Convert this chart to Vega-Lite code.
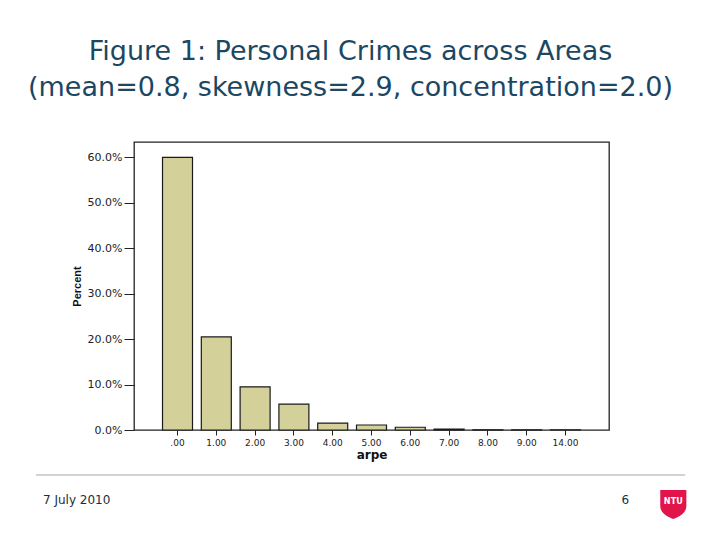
{
  "$schema": "https://vega.github.io/schema/vega-lite/v6.json",
  "background": "white",
  "autosize": {"type": "pad"},
  "padding": {"left": 23, "top": 38, "right": 0, "bottom": 0},
  "title": {
    "text": ["Figure 1: Personal Crimes across Areas", "(mean=0.8, skewness=2.9, concentration=2.0)"],
    "font": "DejaVu Sans",
    "fontSize": 27,
    "fontWeight": "normal",
    "color": "#1b4763",
    "lineHeight": 36,
    "anchor": "middle",
    "dx": -21,
    "offset": 39
  },
  "bounds": "flush",
  "center": true,
  "spacing": 45,
  "vconcat": [
    {
      "width": 475,
      "height": 288,
      "view": {"stroke": "#222222", "strokeWidth": 1.3},
      "data": {
        "values": [
          {"arpe": ".00", "percent": 0.600},
          {"arpe": "1.00", "percent": 0.205},
          {"arpe": "2.00", "percent": 0.095},
          {"arpe": "3.00", "percent": 0.057},
          {"arpe": "4.00", "percent": 0.015},
          {"arpe": "5.00", "percent": 0.011},
          {"arpe": "6.00", "percent": 0.006},
          {"arpe": "7.00", "percent": 0.002},
          {"arpe": "8.00", "percent": 0.0005},
          {"arpe": "9.00", "percent": 0.0004},
          {"arpe": "14.00", "percent": 0.0004}
        ]
      },
      "mark": {"type": "bar", "fill": "#d4d09a", "stroke": "#1a1a1a", "strokeWidth": 1.2},
      "encoding": {
        "x": {
          "field": "arpe",
          "type": "nominal",
          "sort": null,
          "scale": {"paddingInner": 0.227, "paddingOuter": 0.735},
          "axis": {
            "title": "arpe",
            "titleFont": "DejaVu Sans",
            "titleFontWeight": "bold",
            "titleFontSize": 12,
            "titleColor": "#111111",
            "titlePadding": 2,
            "labelFont": "DejaVu Sans",
            "labelFontSize": 9,
            "labelColor": "#222222",
            "labelAngle": 0,
            "labelPadding": 3,
            "tickSize": 5,
            "tickColor": "#222222",
            "domain": false,
            "grid": false
          }
        },
        "y": {
          "field": "percent",
          "type": "quantitative",
          "scale": {"domain": [0, 0.634], "nice": false, "zero": true},
          "axis": {
            "title": "Percent",
            "titleFont": "Liberation Sans",
            "titleFontWeight": "bold",
            "titleFontSize": 11,
            "titleColor": "#111111",
            "titlePadding": 5,
            "format": ".1%",
            "values": [0, 0.1, 0.2, 0.3, 0.4, 0.5, 0.6],
            "labelFont": "DejaVu Sans",
            "labelFontSize": 11,
            "labelColor": "#222222",
            "labelPadding": 2,
            "tickSize": 10,
            "tickColor": "#222222",
            "domain": false,
            "grid": false
          }
        }
      }
    },
    {
      "width": 697,
      "height": 50,
      "view": {"stroke": null},
      "encoding": {
        "x": {"type": "quantitative", "scale": {"domain": [0, 100]}, "axis": null},
        "y": {"type": "quantitative", "scale": {"domain": [0, 100], "reverse": true}, "axis": null}
      },
      "layer": [
        {
          "data": {"values": [{"start": 1.87, "end": 95.0, "level": 0}]},
          "mark": {"type": "rule", "color": "#c4c4c4", "strokeWidth": 1.5},
          "encoding": {
            "x": {"field": "start", "type": "quantitative"},
            "x2": {"field": "end"},
            "y": {"field": "level", "type": "quantitative"}
          }
        },
        {
          "data": {"values": [{"label": "7 July 2010", "pos": 2.87, "level": 49}]},
          "mark": {"type": "text", "align": "left", "baseline": "middle", "font": "DejaVu Sans", "fontSize": 12, "color": "#1a2f3a"},
          "encoding": {
            "x": {"field": "pos", "type": "quantitative"},
            "y": {"field": "level", "type": "quantitative"},
            "text": {"field": "label"}
          }
        },
        {
          "data": {"values": [{"label": "6", "pos": 86.4, "level": 49}]},
          "mark": {"type": "text", "align": "center", "baseline": "middle", "font": "DejaVu Sans", "fontSize": 12, "color": "#1a2f3a"},
          "encoding": {
            "x": {"field": "pos", "type": "quantitative"},
            "y": {"field": "level", "type": "quantitative"},
            "text": {"field": "label"}
          }
        },
        {
          "data": {"values": [{"name": "NTU", "pos": 93.3, "level": 59}]},
          "mark": {
            "type": "point",
            "filled": true,
            "fill": "#e2154b",
            "opacity": 1,
            "strokeWidth": 0,
            "size": 841,
            "shape": "M-0.9,-1L0.9,-1L0.9,0.1C0.9,0.6 0.4,0.85 0,1C-0.4,0.85 -0.9,0.6 -0.9,0.1Z"
          },
          "encoding": {
            "x": {"field": "pos", "type": "quantitative"},
            "y": {"field": "level", "type": "quantitative"}
          }
        },
        {
          "data": {"values": [{"name": "NTU", "pos": 93.3, "level": 51}]},
          "mark": {"type": "text", "align": "center", "baseline": "middle", "font": "DejaVu Sans Condensed", "fontWeight": "bold", "fontSize": 9, "color": "white"},
          "encoding": {
            "x": {"field": "pos", "type": "quantitative"},
            "y": {"field": "level", "type": "quantitative"},
            "text": {"field": "name"}
          }
        }
      ]
    }
  ],
  "config": {
    "view": {"stroke": null},
    "font": "DejaVu Sans"
  }
}
